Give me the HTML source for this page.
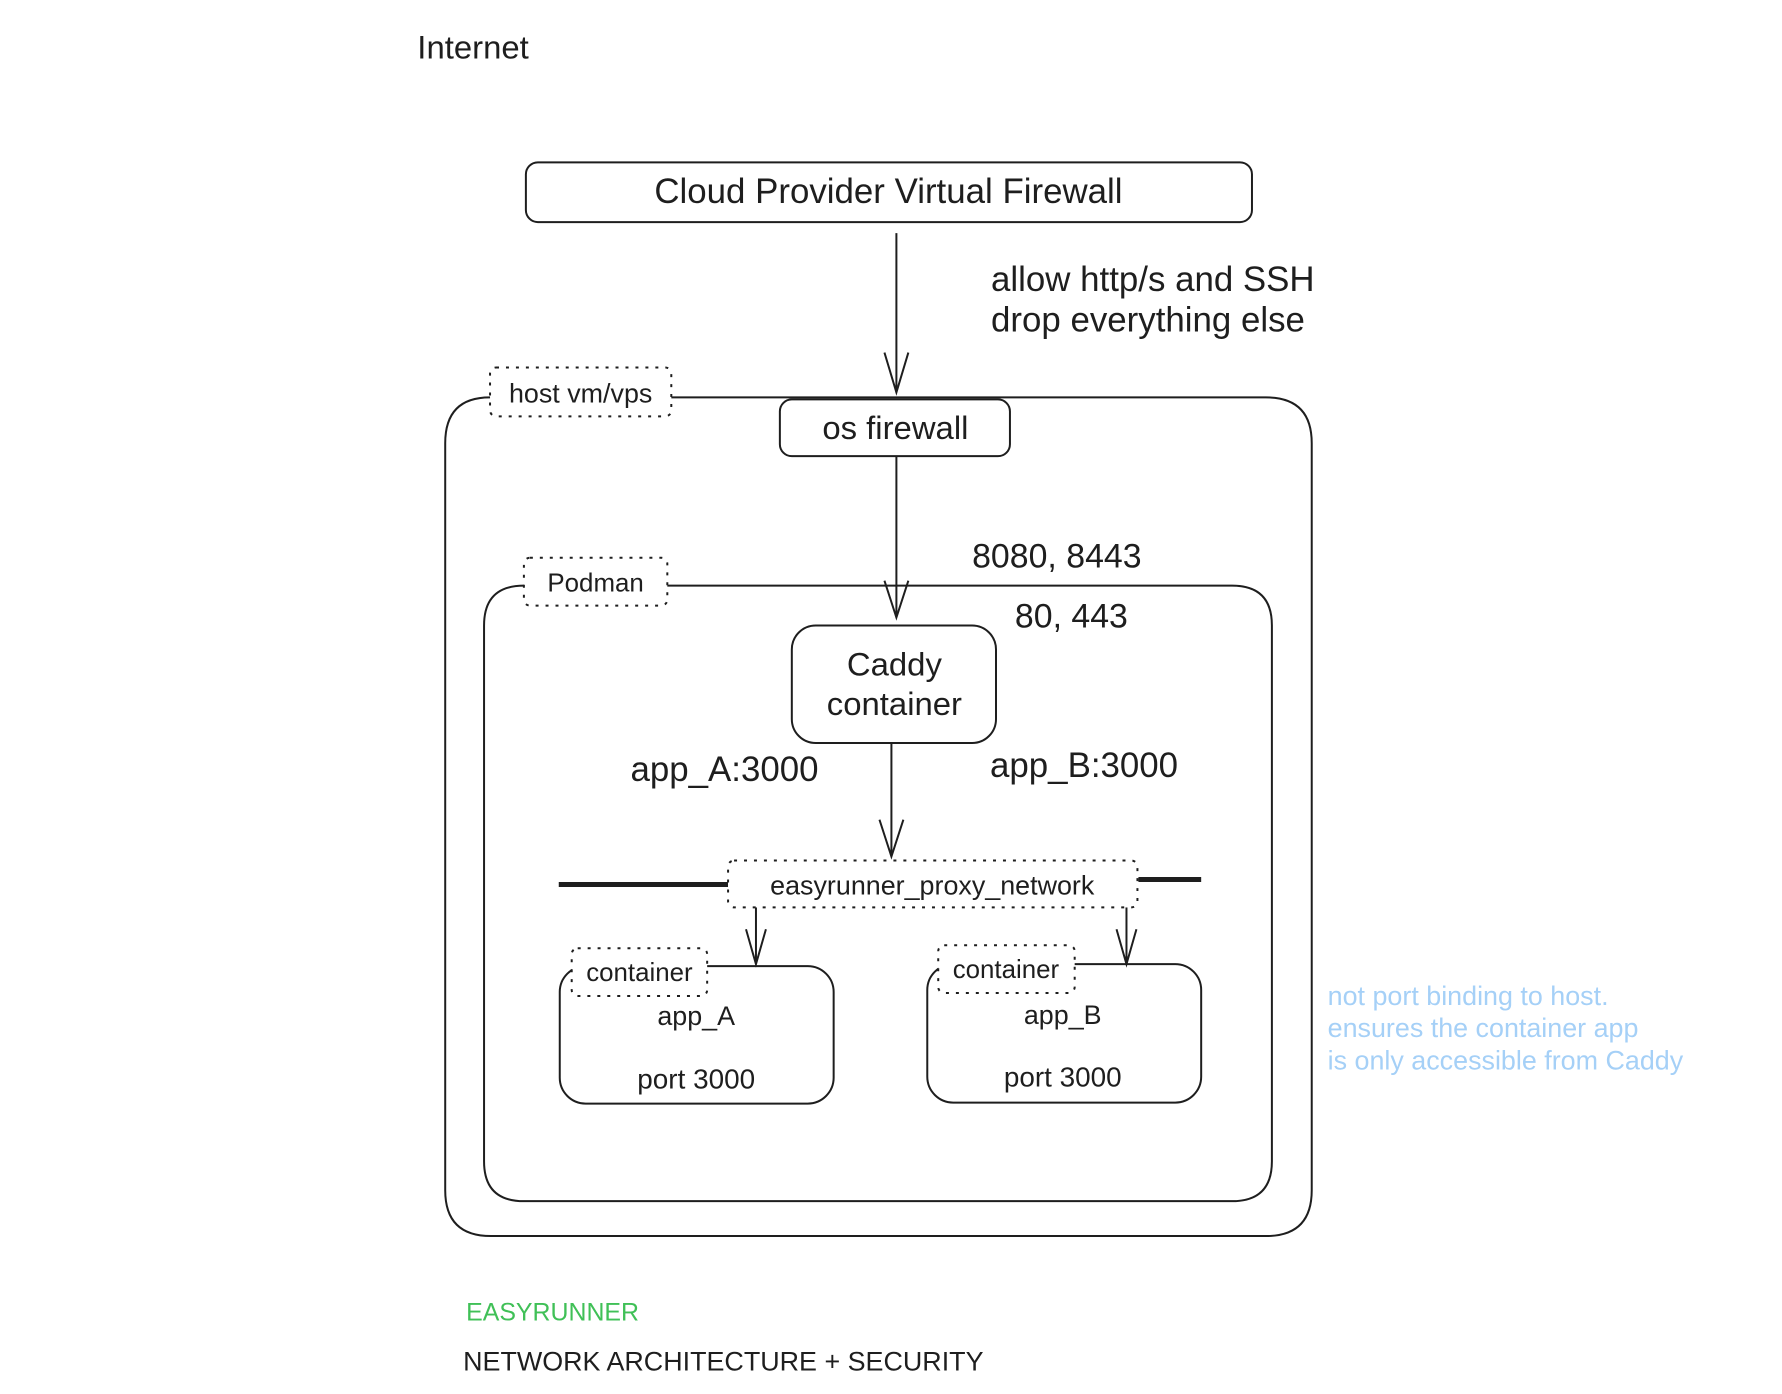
<!DOCTYPE html>
<html><head><meta charset="utf-8"><style>
html,body{margin:0;padding:0;background:#fff;}
svg{display:block;}
text{font-family:"Liberation Sans",sans-serif;fill:#1e1e1e;}
</style></head><body>
<svg width="1782" height="1394" viewBox="0 0 1782 1394" xmlns="http://www.w3.org/2000/svg">
<g transform="scale(0.996)">
<g fill="none" stroke="#1e1e1e" stroke-width="2">
  <rect x="528" y="163" width="729" height="60" rx="12"/>
  <line x1="900" y1="234" x2="900" y2="394"/>
  <polyline points="888,354 900,394 912,354"/>
  <path d="M492,399 L1271,399 Q1317,399 1317,445 L1317,1195 Q1317,1241 1271,1241 L493,1241 Q447,1241 447,1195 L447,445 Q447,399 492,399"/>
  <rect x="783" y="401" width="231" height="57" rx="12" fill="#fff"/>
  <line x1="900" y1="458" x2="900" y2="620"/>
  <polyline points="888,583 900,620 912,583"/>
  <path d="M526,588 L1237,588 Q1277,588 1277,628 L1277,1166 Q1277,1206 1237,1206 L526,1206 Q486,1206 486,1166 L486,628 Q486,588 526,588"/>
  <rect x="795" y="628" width="205" height="118" rx="24" fill="#fff"/>
  <line x1="895" y1="746" x2="895" y2="860"/>
  <polyline points="883,823 895,860 907,823"/>
  <line x1="561" y1="888" x2="731" y2="888" stroke-width="5"/>
  <line x1="1143" y1="883" x2="1206" y2="883" stroke-width="5"/>
  <line x1="759" y1="911" x2="759" y2="968"/>
  <polyline points="749,933 759,968 769,933"/>
  <line x1="1131" y1="911" x2="1131" y2="968"/>
  <polyline points="1121,933 1131,968 1141,933"/>
  <rect x="562" y="970" width="275" height="138" rx="26"/>
  <rect x="931" y="968" width="275" height="139" rx="26"/>
</g>
<g fill="#fff" stroke="#1e1e1e" stroke-width="2" stroke-dasharray="3 7">
  <rect x="492" y="369" width="182" height="49" rx="6"/>
  <rect x="526" y="560" width="144" height="48" rx="6"/>
  <rect x="731" y="864" width="411" height="47" rx="6"/>
  <rect x="574" y="952" width="136" height="48" rx="6"/>
  <rect x="942" y="949" width="137" height="48" rx="6"/>
</g>
<text x="419" y="59" font-size="33">Internet</text>
<text x="892" y="204" font-size="35" text-anchor="middle">Cloud Provider Virtual Firewall</text>
<text x="995" y="292" font-size="35">allow http/s and SSH</text>
<text x="995" y="333" font-size="35">drop everything else</text>
<text x="583" y="404" font-size="27" text-anchor="middle">host vm/vps</text>
<text x="899" y="441" font-size="33" text-anchor="middle">os firewall</text>
<text x="976" y="570" font-size="34">8080, 8443</text>
<text x="598" y="594" font-size="26" text-anchor="middle">Podman</text>
<text x="1019" y="630" font-size="34">80, 443</text>
<text x="898" y="678" font-size="33" text-anchor="middle">Caddy</text>
<text x="898" y="718" font-size="33" text-anchor="middle">container</text>
<text x="633" y="784" font-size="35">app_A:3000</text>
<text x="994" y="780" font-size="35">app_B:3000</text>
<text x="936" y="898" font-size="27" text-anchor="middle">easyrunner_proxy_network</text>
<text x="642" y="985" font-size="26" text-anchor="middle">container</text>
<text x="1010" y="982" font-size="26" text-anchor="middle">container</text>
<text x="699" y="1029" font-size="27" text-anchor="middle">app_A</text>
<text x="699" y="1093" font-size="28" text-anchor="middle">port 3000</text>
<text x="1067" y="1028" font-size="27" text-anchor="middle">app_B</text>
<text x="1067" y="1091" font-size="28" text-anchor="middle">port 3000</text>
<text x="1333" y="1009" font-size="27" style="fill:#a5d0f7">not port binding to host.</text>
<text x="1333" y="1041" font-size="27" style="fill:#a5d0f7">ensures the container app</text>
<text x="1333" y="1074" font-size="27" style="fill:#a5d0f7">is only accessible from Caddy</text>
<text x="468" y="1326" font-size="25" style="fill:#40c057">EASYRUNNER</text>
<text x="465" y="1376" font-size="27">NETWORK ARCHITECTURE + SECURITY</text>
</g>
</svg>
</body></html>
